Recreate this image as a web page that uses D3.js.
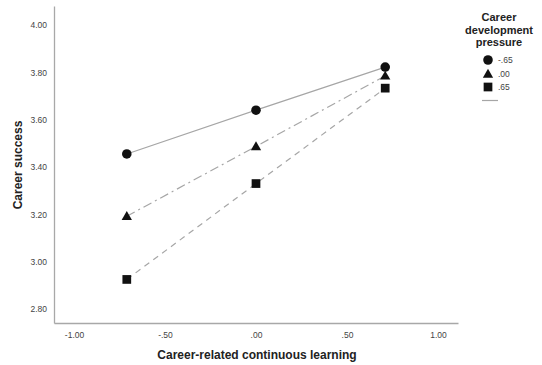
<!DOCTYPE html>
<html>
<head>
<meta charset="utf-8">
<script src="https://cdn.jsdelivr.net/npm/d3@7"></script>
<style>
  body { margin: 0; background: #fff; }
  svg { display: block; font-family: "Liberation Sans", Arial, sans-serif; }
</style>
</head>
<body>
<svg id="chart" width="542" height="365"></svg>
<script>
// Data
const xLevels = [-0.71, 0.00, 0.71];
const seriesNames = ["-.65", ".00", ".65"];
const seriesLow = [3.455, 3.640, 3.822];   // pressure -.65
const seriesMid = [3.192, 3.487, 3.785];   // pressure .00
const seriesHigh = [2.925, 3.330, 3.733];  // pressure .65
const xTicks = [-1.00, -0.50, 0.00, 0.50, 1.00];
const yTicks = [2.80, 3.00, 3.20, 3.40, 3.60, 3.80, 4.00];
const xTitle = "Career-related continuous learning";
const yTitle = "Career success";
const legendTitle = ["Career", "development", "pressure"];

const series = [
  { name: seriesNames[0], values: seriesLow, symbol: d3.symbolCircle, dash: null },
  { name: seriesNames[1], values: seriesMid, symbol: d3.symbolTriangle, dash: "9,4,2,4" },
  { name: seriesNames[2], values: seriesHigh, symbol: d3.symbolSquare, dash: "6,5" }
];

const svg = d3.select("#chart");
const plotLeft = 54, plotRight = 458, plotTop = 6, plotBottom = 323;

const x = d3.scaleLinear().domain([-1.11, 1.11]).range([plotLeft, plotRight]);
const y = d3.scaleLinear().domain([2.741, 4.08]).range([plotBottom, plotTop]);

const fmt = v => {
  let s = d3.format(".2f")(Math.abs(v));
  if (s.startsWith("0")) s = s.slice(1);
  return (v < 0 ? "-" : "") + s;
};

// X axis
const xAxis = svg.append("g").attr("transform", `translate(0,${plotBottom})`)
  .call(d3.axisBottom(x).tickValues(xTicks).tickSize(0).tickPadding(9).tickFormat(fmt));
xAxis.select(".domain").attr("stroke", "#a8a8a8").attr("stroke-width", 1.3);
xAxis.selectAll("text").attr("font-size", 8.5).attr("fill", "#444")
  .attr("font-family", "Liberation Sans, Arial, sans-serif");

// Y axis
const yAxis = svg.append("g").attr("transform", `translate(${plotLeft},0)`)
  .call(d3.axisLeft(y).tickValues(yTicks).tickSize(0).tickPadding(7).tickFormat(fmt));
yAxis.select(".domain").attr("stroke", "#a8a8a8").attr("stroke-width", 1.3);
yAxis.selectAll("text").attr("font-size", 8.5).attr("fill", "#444")
  .attr("font-family", "Liberation Sans, Arial, sans-serif");

// Titles
svg.append("text").attr("x", 257).attr("y", 359).attr("text-anchor", "middle")
  .attr("font-size", 12).attr("font-weight", "bold").attr("fill", "#222").text(xTitle);
svg.append("text").attr("transform", "translate(22,165) rotate(-90)").attr("text-anchor", "middle")
  .attr("font-size", 12).attr("font-weight", "bold").attr("fill", "#222").text(yTitle);

// Lines
const line = d3.line().x((d, i) => x(xLevels[i])).y(d => y(d));
series.forEach(s => {
  svg.append("path").datum(s.values).attr("d", line)
    .attr("fill", "none").attr("stroke", "#a6a6a6").attr("stroke-width", 1.2)
    .attr("stroke-dasharray", s.dash);
});

// Markers
const sizes = [72, 46, 76];
series.forEach((s, k) => {
  svg.selectAll(null).data(s.values).enter().append("path")
    .attr("d", d3.symbol().type(s.symbol).size(sizes[k]))
    .attr("transform", (d, i) => `translate(${x(xLevels[i])},${y(d) + (k === 1 ? 0.8 : 0)})`)
    .attr("fill", "#111");
});

// Legend
const lg = svg.append("g");
legendTitle.forEach((t, i) => {
  lg.append("text").attr("x", 499).attr("y", 21 + i * 12.5).attr("text-anchor", "middle")
    .attr("font-size", 11).attr("font-weight", "bold").attr("fill", "#222").text(t);
});
const legY = [60, 74, 87];
series.forEach((s, k) => {
  lg.append("path").attr("d", d3.symbol().type(s.symbol).size(sizes[k]))
    .attr("transform", `translate(488,${legY[k] + (k === 1 ? 0.8 : 0)})`).attr("fill", "#111");
  lg.append("text").attr("x", 498).attr("y", legY[k] + 3).attr("font-size", 8.5)
    .attr("fill", "#444").text(s.name);
});
lg.append("line").attr("x1", 482).attr("x2", 498).attr("y1", 100.5).attr("y2", 100.5)
  .attr("stroke", "#a6a6a6").attr("stroke-width", 1.2);
</script>
</body>
</html>
